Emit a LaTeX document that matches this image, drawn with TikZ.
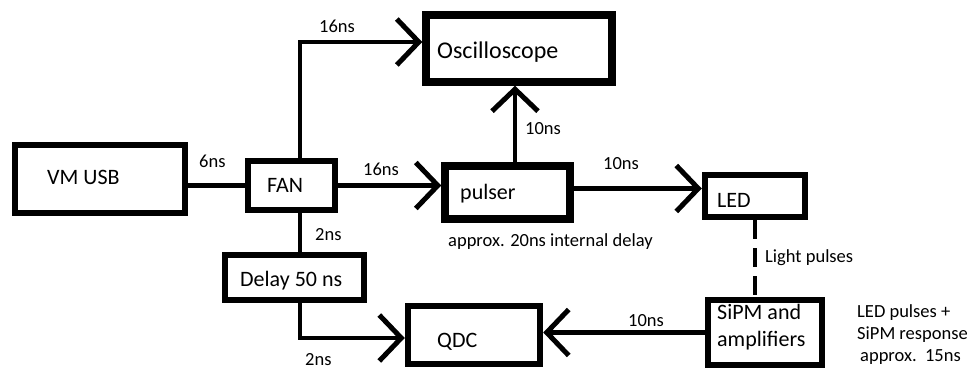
\documentclass[tikz,border=0pt]{standalone}
\usepackage{fontspec}
\setmainfont{Carlito}
\usetikzlibrary{arrows.meta}
\begin{document}
\begin{tikzpicture}[x=1pt,y=-1pt,
  blk/.style={draw, line width=6.5pt, inner sep=0pt},
  big/.style={font=\fontsize{22}{27}\selectfont, inner sep=0pt, anchor=base west, align=left},
  small/.style={font=\fontsize{18.5}{22}\selectfont, inner sep=0pt, anchor=base west, align=left},
  wire/.style={line width=4.5pt},
  arr/.style={wire, -{Straight Barb[length=22pt,width=46pt,line width=5pt]}},
  lightray/.style={line width=4.5pt, dash pattern=on 19pt off 9pt}]
% canvas
\fill[white] (0,0) rectangle (970,371);
\useasboundingbox (0,0) rectangle (970,371);

% blocks
\node[blk, minimum width=170pt, minimum height=68pt] (vm)    at (100,179)   {};
\node[blk, minimum width=87pt,  minimum height=49pt] (fan)   at (291.5,185.5) {};
\node[blk, minimum width=186pt, minimum height=67pt, line width=7.5pt] (osc) at (519,48.5) {};
\node[blk, minimum width=125pt, minimum height=53pt, line width=7.5pt] (pulser) at (507.5,192.5) {};
\node[blk, minimum width=100pt, minimum height=42pt] (led)   at (755,196)   {};
\node[blk, minimum width=114pt, minimum height=65pt] (sipm)  at (765,332.5) {};
\node[blk, minimum width=132pt, minimum height=58pt] (qdc)   at (474,335)   {};
\node[blk, minimum width=139pt, minimum height=45pt] (delay) at (294.5,277.5) {};

% block captions (anchored on the baseline of the last line)
\node[big] (vmT)     at (47,185)  {VM USB};
\node[big] (fanT)    at (267,193) {FAN};
\node[big, font=\fontsize{24}{28}\selectfont] (oscT) at (437,59) {Oscilloscope};
\node[big] (pulserT) at (460,200) {pulser};
\node[big] (ledT)    at (717,208) {LED};
\node[big] (sipmT)   at (717,347) {SiPM and\\amplifiers};
\node[big] (qdcT)    at (437,348) {QDC};
\node[big] (delayT)  at (240,287) {Delay 50 ns};

% signal paths
\draw[wire] (vm.east |- fan.west) -- (fan.west);
\draw[arr] ([xshift=8.5pt]fan.north) |- ([yshift=6.5pt]osc.west);
\draw[arr] (fan.east) -- (fan.east -| pulser.west);
\draw[arr] ([xshift=7.5pt]pulser.north) -- ([xshift=7.5pt]pulser.north |- osc.south);
\draw[arr] ([yshift=4pt]pulser.east) -- ([yshift=4pt]pulser.east -| led.west);
\draw[lightray] (led.south) -- (led.south |- sipm.north);
\draw[arr] (sipm.west) -- (sipm.west -| qdc.east);
\draw[wire] ([xshift=8.5pt]fan.south) -- ([xshift=8.5pt]fan.south |- delay.north);
\draw[arr] ([xshift=5.5pt]delay.south) |- ([yshift=-3pt]qdc.west);

% delay annotations
\node[small] (l6)    at (199,168) {6ns};
\node[small] (l16a)  at (319,33)  {16ns};
\node[small] (l16b)  at (363,176) {16ns};
\node[small] (l10a)  at (525,135) {10ns};
\node[small] (lint)  at (448,247) {approx. 20ns internal delay};
\node[small] (l10b)  at (603,170) {10ns};
\node[small] (llight) at (765,263) {Light pulses};
\node[small] (l2a)   at (315,241) {2ns};
\node[small] (l2b)   at (305,366) {2ns};
\node[small] (l10c)  at (628,327) {10ns};
\node[small] (lresp) at (857,362) {LED pulses +\\SiPM response\\\hspace*{3pt}approx.\ \ 15ns};
\end{tikzpicture}
\end{document}
